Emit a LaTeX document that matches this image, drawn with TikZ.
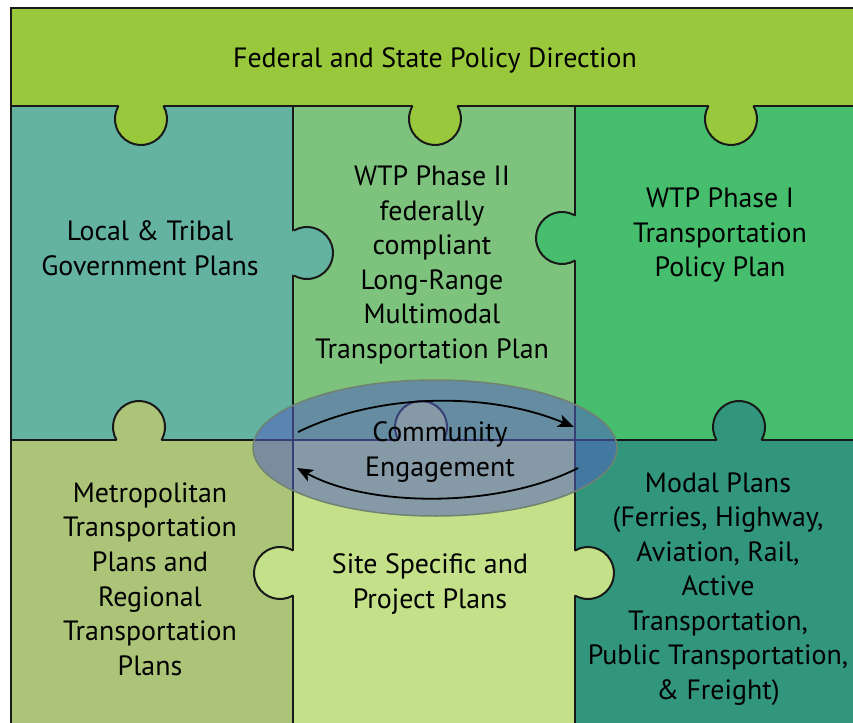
\documentclass[tikz,border=0pt]{standalone}
\usepackage{fontspec}
\setmainfont{PT Sans}
\usepackage{xcolor}
\usepackage{tikz}
\usetikzlibrary{arrows.meta}

\definecolor{policygreen}{RGB}{154,200,60}
\definecolor{localteal}{RGB}{100,178,160}
\definecolor{phasetwo}{RGB}{125,195,125}
\definecolor{phaseone}{RGB}{70,190,110}
\definecolor{metrogreen}{RGB}{172,196,120}
\definecolor{sitegreen}{RGB}{196,224,136}
\definecolor{modalteal}{RGB}{50,150,125}
\definecolor{engageblue}{RGB}{82,96,192}
\definecolor{engagerim}{RGB}{112,130,112}

\begin{document}
\begin{tikzpicture}[x=1bp, y=-1bp,
  piece/.style={line width=2bp, color=black!90},
  plantext/.style={align=center, text=black, font=\fontsize{28}{34.7}\selectfont},
  cycle arrow/.style={line width=1.8bp, black, -{Stealth[length=16bp, width=13bp, inset=4bp]}}]

\useasboundingbox[fill=white] (0,0) rectangle (853,723);

\fill[policygreen] (11,8) rectangle (853,106);
\fill[localteal] (11,106) rectangle (293,440);
\fill[phasetwo] (293,106) rectangle (575,440);
\fill[phaseone] (575,106) rectangle (853,440);
\fill[metrogreen] (11,440) rectangle (293,723);
\fill[sitegreen] (293,440) rectangle (575,723);
\fill[modalteal] (575,440) rectangle (853,723);

\draw[piece] (11,723)--(11,8)--(853,8);
\draw[piece] (11,106)--(853,106);
\draw[piece] (11,440)--(853,440);
\draw[piece] (293,106)--(293,723);
\draw[piece] (575,106)--(575,723);

\foreach \col/\cx/\cy/\dir in {policygreen/141/119/90, policygreen/435/119/90, policygreen/731/119/90,
    localteal/307/253/0, phaseone/562/238/180,
    metrogreen/139/427/270, sitegreen/421/427/270, modalteal/739/427/270,
    sitegreen/280/573/180, sitegreen/588/573/0}{
  \fill[\col] (\cx,\cy) circle[radius=26];
  \draw[piece] ([shift={(\dir-120:26)}]\cx,\cy) arc[start angle=\dir-120, end angle=\dir+120, radius=26];
}

\draw[fill=engageblue, fill opacity=0.55, draw=engagerim, line width=1.5bp] (435,448) ellipse[x radius=182, y radius=68];

\coordinate (topstart) at (298,432);
\coordinate (topend) at (574,427);
\coordinate (botstart) at (578,468);
\coordinate (botend) at (297,468);
\draw[cycle arrow] (topstart) .. controls (380,392) and (490,392) .. (topend);
\draw[cycle arrow] (botstart) .. controls (500,508) and (370,508) .. (botend);

\node[plantext] (policy) at (435,60) {Federal and State Policy Direction};
\node[plantext] (local) at (150,248) {Local \& Tribal\\Government Plans};
\node[plantext] (phaseII) at (432,265) {WTP Phase II\\federally\\compliant\\Long-Range\\Multimodal\\Transportation Plan};
\node[plantext] (phaseI) at (720,235) {WTP Phase I\\Transportation\\Policy Plan};
\node[plantext] (engage) at (440,452) {Community\\Engagement};
\node[plantext] (metro) at (150,579) {Metropolitan\\Transportation\\Plans and\\Regional\\Transportation\\Plans};
\node[plantext] (site) at (430,584) {Site Specific and\\Project Plans};
\node[plantext] (modal) at (718,589) {Modal Plans\\(Ferries, Highway,\\Aviation, Rail,\\Active\\Transportation,\\Public Transportation,\\\& Freight)};

\end{tikzpicture}
\end{document}
